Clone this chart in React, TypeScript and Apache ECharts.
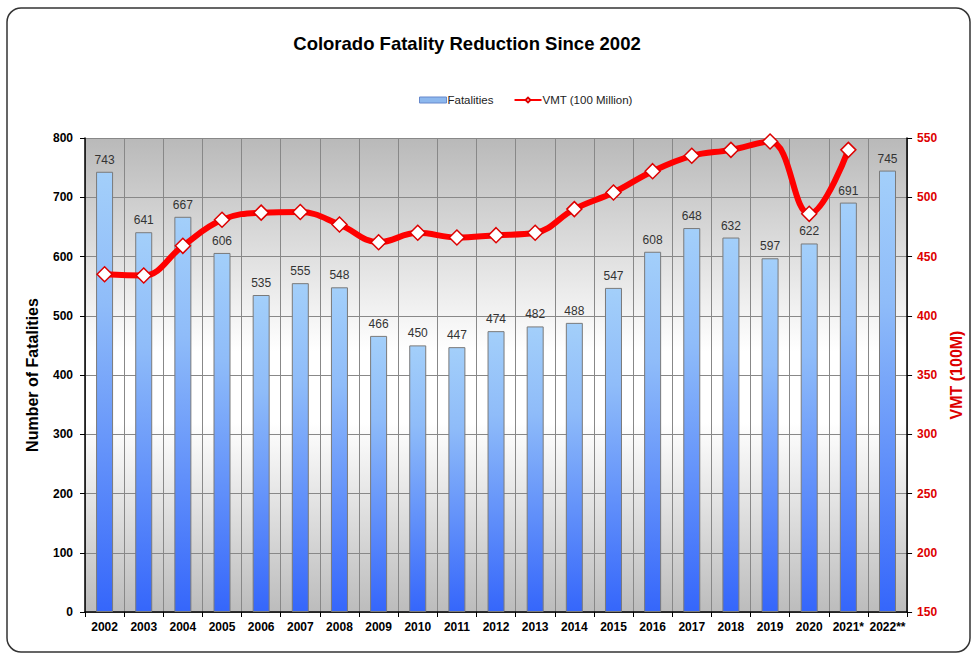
import React, { useEffect, useRef } from "react";
import * as echarts from "echarts";

const years = ["2002","2003","2004","2005","2006","2007","2008","2009","2010","2011","2012","2013","2014","2015","2016","2017","2018","2019","2020","2021*","2022**"];
const fatalities = [743,641,667,606,535,555,548,466,450,447,474,482,488,547,608,648,632,597,622,691,745];
const vmt: (number | string)[] = [435,434,459,481,487,487.5,477,462,470,466,468,470,490,504,522,535,540,547,486,540,"-"];
const leftTicks = { min: 0, max: 800, interval: 100 };
const rightTicks = { min: 150, max: 550, interval: 50 };

const FONT = "'Liberation Sans', Arial, sans-serif";

export default function App() {
  const ref = useRef<HTMLDivElement>(null);
  useEffect(() => {
    if (!ref.current) return;
    const chart = echarts.init(ref.current, undefined, { renderer: "svg" });
    chart.setOption({
      animation: false,
      backgroundColor: "#ffffff",
      textStyle: { fontFamily: FONT },
      title: {
        text: "Colorado Fatality Reduction Since 2002",
        left: 462,
        textAlign: "center",
        top: 29,
        textStyle: { fontFamily: FONT, fontSize: 18.5, fontWeight: "bold", color: "#000" },
      },
      legend: {
        top: 89,
        left: 414,
        itemWidth: 27,
        itemHeight: 6,
        itemGap: 20,
        textStyle: { fontFamily: FONT, fontSize: 11.5, color: "#222", padding: [0, 0, 0, -4] },
        data: [
          { name: "Fatalities", icon: "rect", itemStyle: { color: "#8db8ee", borderColor: "#6688cc", borderWidth: 1 } },
          { name: "VMT (100 Million)" },
        ],
      },
      graphic: [
        {
          type: "rect",
          shape: { x: 7, y: 8, width: 963, height: 644, r: 14 },
          style: { fill: "none", stroke: "#333", lineWidth: 1.5 },
          z: 100,
        },
      ],
      grid: {
        left: 85,
        right: 64,
        top: 138,
        height: 474,
        show: true,
        borderWidth: 0,
        backgroundColor: {
          type: "linear", x: 0, y: 0, x2: 0, y2: 1,
          colorStops: [
            { offset: 0, color: "#b9b9b9" },
            { offset: 0.45, color: "#ffffff" },
            { offset: 0.6, color: "#ffffff" },
            { offset: 1, color: "#bcbcbc" },
          ],
        },
      },
      xAxis: {
        type: "category",
        data: years,
        boundaryGap: true,
        axisLine: { lineStyle: { color: "#000", width: 1.5 } },
        axisTick: { show: true, length: 5, lineStyle: { color: "#000" } },
        splitLine: { show: true, lineStyle: { color: "#888", width: 1 } },
        axisLabel: { fontFamily: FONT, fontSize: 12, fontWeight: "bold", color: "#000", margin: 9, interval: 0 },
      },
      yAxis: [
        {
          type: "value",
          ...leftTicks,
          name: "Number of Fatalities",
          nameLocation: "middle",
          nameGap: 45,
          nameTextStyle: { fontFamily: FONT, fontSize: 16, fontWeight: "bold", color: "#000" },
          axisLine: { show: true, lineStyle: { color: "#000", width: 1.5 } },
          axisTick: { show: true, length: 5, lineStyle: { color: "#000" } },
          splitLine: { show: true, lineStyle: { color: "#888", width: 1 } },
          axisLabel: { fontFamily: FONT, fontSize: 12, fontWeight: "bold", color: "#000", margin: 12 },
        },
        {
          type: "value",
          ...rightTicks,
          position: "right",
          name: "VMT (100M)",
          nameLocation: "middle",
          nameGap: 38,
          nameRotate: 90,
          nameTextStyle: { fontFamily: FONT, fontSize: 16, fontWeight: "bold", color: "#dd0000" },
          axisLine: { show: true, lineStyle: { color: "#000", width: 1.5 } },
          axisTick: { show: true, length: 5, lineStyle: { color: "#000" } },
          splitLine: { show: false },
          axisLabel: { fontFamily: FONT, fontSize: 12, fontWeight: "bold", color: "#dd0000", margin: 10 },
        },
      ],
      series: [
        {
          name: "Fatalities",
          type: "bar",
          data: fatalities,
          yAxisIndex: 0,
          barWidth: 17,
          itemStyle: {
            color: {
              type: "linear", x: 0, y: 0, x2: 0, y2: 1,
              colorStops: [
                { offset: 0, color: "#a3cffa" },
                { offset: 0.3, color: "#8fbcf9" },
                { offset: 1, color: "#3566fb" },
              ],
            },
            borderColor: "#7a7a7a",
            borderWidth: 1,
          },
          label: {
            show: true,
            position: "top",
            distance: 6,
            fontFamily: FONT,
            fontSize: 12,
            color: "#333",
          },
          z: 2,
        },
        {
          name: "VMT (100 Million)",
          type: "line",
          data: vmt,
          yAxisIndex: 1,
          smooth: 0.4,
          symbol: "diamond",
          symbolSize: 15,
          showAllSymbol: true,
          lineStyle: { color: "#ff0000", width: 6 },
          itemStyle: { color: "#ffffff", borderColor: "#dd0000", borderWidth: 1.5 },
          z: 5,
        },
      ],
    });
    return () => chart.dispose();
  }, []);
  return <div ref={ref} style={{ position: "fixed", left: 0, top: 0, width: 972, height: 656 }} />;
}
